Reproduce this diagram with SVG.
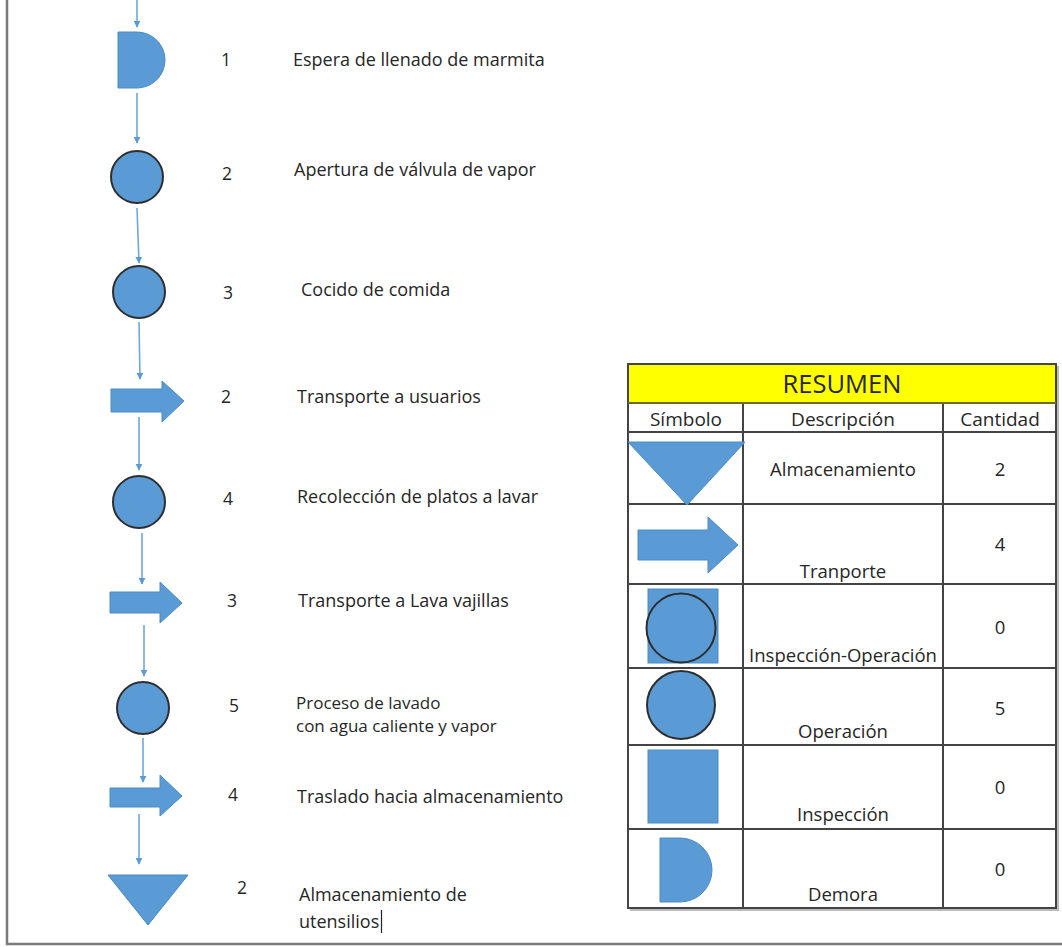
<svg xmlns="http://www.w3.org/2000/svg" width="1062" height="947" viewBox="0 0 1062 947">
  <style>
    .shape { fill: #5B9BD5; stroke: #4A8AC6; stroke-width: 1; }
    .ring { fill: #5B9BD5; stroke: #2E2E2E; stroke-width: 2; }
    .flow { stroke: #6FA8DC; stroke-width: 1.6; fill: none; marker-end: url(#head); }
    .txt { font-family: "Open Sans", "Liberation Sans", sans-serif; font-size: 18px; fill: #262626; }
    .num { font-family: "Open Sans", "Liberation Sans", sans-serif; font-size: 17.5px; fill: #262626; text-anchor: middle; }
    .cell { font-family: "Open Sans", "Liberation Sans", sans-serif; font-size: 18.5px; fill: #262626; text-anchor: middle; }
    .head { font-size: 19px; }
    .grid { stroke: #444; stroke-width: 2; fill: none; }
    .page { stroke: #7A7A7A; stroke-width: 2.5; fill: none; }
  </style>
  <defs>
    <marker id="head" viewBox="0 0 10 10" refX="9" refY="5" markerWidth="7" markerHeight="7" markerUnits="userSpaceOnUse" orient="auto">
      <path d="M0,0 L10,5 L0,10 Z" fill="#5B9BD5"/>
    </marker>
  </defs>

  <rect width="1062" height="947" fill="#FFFFFF"/>

  <!-- page edges -->
  <path class="page" d="M7,0 V944 H1062"/>

  <!-- connectors between process steps -->
  <g id="connectors">
    <line class="flow" x1="137" y1="0" x2="137" y2="27"/>
    <line class="flow" x1="137" y1="93" x2="137" y2="143"/>
    <line class="flow" x1="137" y1="208" x2="139" y2="263"/>
    <line class="flow" x1="139" y1="322" x2="140" y2="379"/>
    <line class="flow" x1="139" y1="417" x2="139" y2="470"/>
    <line class="flow" x1="142" y1="533" x2="142" y2="584"/>
    <line class="flow" x1="144" y1="625" x2="144" y2="676"/>
    <line class="flow" x1="143" y1="738" x2="143" y2="782"/>
    <line class="flow" x1="139" y1="814" x2="139" y2="864"/>
  </g>

  <!-- process steps -->
  <g id="step-espera">
    <path class="shape" d="M118,32 H137 A28,28 0 0 1 137,88 H118 Z"/>
    <text class="num" x="226" y="66">1</text>
    <text class="txt" x="293" y="66">Espera de llenado de marmita</text>
  </g>
  <g id="step-apertura">
    <circle class="ring" cx="137" cy="177" r="26"/>
    <text class="num" x="227" y="180">2</text>
    <text class="txt" x="294" y="176">Apertura de válvula de vapor</text>
  </g>
  <g id="step-cocido">
    <circle class="ring" cx="139" cy="292" r="26"/>
    <text class="num" x="228" y="299">3</text>
    <text class="txt" x="301" y="296">Cocido de comida</text>
  </g>
  <g id="step-transporte-usuarios">
    <path class="shape" d="M111,389 H162 V381 L184,401 L162,422 V412 H111 Z"/>
    <text class="num" x="226" y="403">2</text>
    <text class="txt" x="297" y="403">Transporte a usuarios</text>
  </g>
  <g id="step-recoleccion">
    <circle class="ring" cx="139" cy="502" r="26"/>
    <text class="num" x="228" y="505">4</text>
    <text class="txt" x="297" y="503">Recolección de platos a lavar</text>
  </g>
  <g id="step-transporte-lava">
    <path class="shape" d="M110,592 H160 V582 L182,603 L160,623 V613 H110 Z"/>
    <text class="num" x="232" y="607">3</text>
    <text class="txt" x="298" y="607">Transporte a Lava vajillas</text>
  </g>
  <g id="step-lavado">
    <circle class="ring" cx="143" cy="708" r="26"/>
    <text class="num" x="234" y="712">5</text>
    <text class="txt" x="296" y="709" style="font-size:17px">Proceso de lavado</text>
    <text class="txt" x="296" y="732" style="font-size:17px">con agua caliente y vapor</text>
  </g>
  <g id="step-traslado">
    <path class="shape" d="M110,788 H160 V775 L182,796 L160,816 V807 H110 Z"/>
    <text class="num" x="233" y="801">4</text>
    <text class="txt" x="297" y="803">Traslado hacia almacenamiento</text>
  </g>
  <g id="step-almacenamiento">
    <path class="shape" d="M108,875 H188 L148,925 Z"/>
    <text class="num" x="242" y="894">2</text>
    <text class="txt" x="299" y="901">Almacenamiento de</text>
    <text class="txt" x="299" y="928">utensilios</text>
    <line x1="381.5" y1="910" x2="381.5" y2="933" stroke="#222" stroke-width="1.2"/>
  </g>

  <!-- summary table -->
  <g id="resumen">
    <!-- soft shadow on right and bottom edges -->
    <path d="M1058,366 V910 H630" stroke="#BBBBBB" stroke-width="2" fill="none"/>
    <rect x="628" y="364" width="428" height="39" fill="#FFFF00"/>
    <path class="grid" d="M628,403 H1056 M628,432 H1056 M628,504 H1056 M628,584 H1056 M628,668 H1056 M628,745 H1056 M628,829 H1056"/>
    <path class="grid" d="M743,403 V908 M943,403 V908"/>
    <rect class="grid" x="628" y="364" width="428" height="544"/>
    <line x1="628" y1="403" x2="1056" y2="403" stroke="#6B6B2A" stroke-width="2"/>

    <text class="cell" x="842" y="393" style="font-size:25.5px">RESUMEN</text>
    <text class="cell head" x="686" y="426">Símbolo</text>
    <text class="cell head" x="843" y="426">Descripción</text>
    <text class="cell head" x="1000" y="426">Cantidad</text>

    <path class="shape" d="M628,442 H745 L687,505 Z"/>
    <text class="cell" x="843" y="476">Almacenamiento</text>
    <text class="cell" x="1000" y="476">2</text>

    <path class="shape" d="M638,530 H708 V517 L738,545 L708,573 V560 H638 Z"/>
    <text class="cell" x="843" y="578">Tranporte</text>
    <text class="cell" x="1000" y="551">4</text>

    <rect class="shape" x="648" y="589" width="70" height="74"/>
    <circle class="ring" cx="681" cy="628" r="34.5"/>
    <text class="cell" x="843" y="662">Inspección-Operación</text>
    <text class="cell" x="1000" y="634">0</text>

    <circle class="ring" cx="681" cy="705" r="34"/>
    <text class="cell" x="843" y="738">Operación</text>
    <text class="cell" x="1000" y="715">5</text>

    <rect class="shape" x="648" y="750" width="70" height="73"/>
    <text class="cell" x="843" y="821">Inspección</text>
    <text class="cell" x="1000" y="794">0</text>

    <path class="shape" d="M660,838 H680 A32,32 0 0 1 680,902 H660 Z"/>
    <text class="cell" x="843" y="901">Demora</text>
    <text class="cell" x="1000" y="876">0</text>
  </g>
</svg>
